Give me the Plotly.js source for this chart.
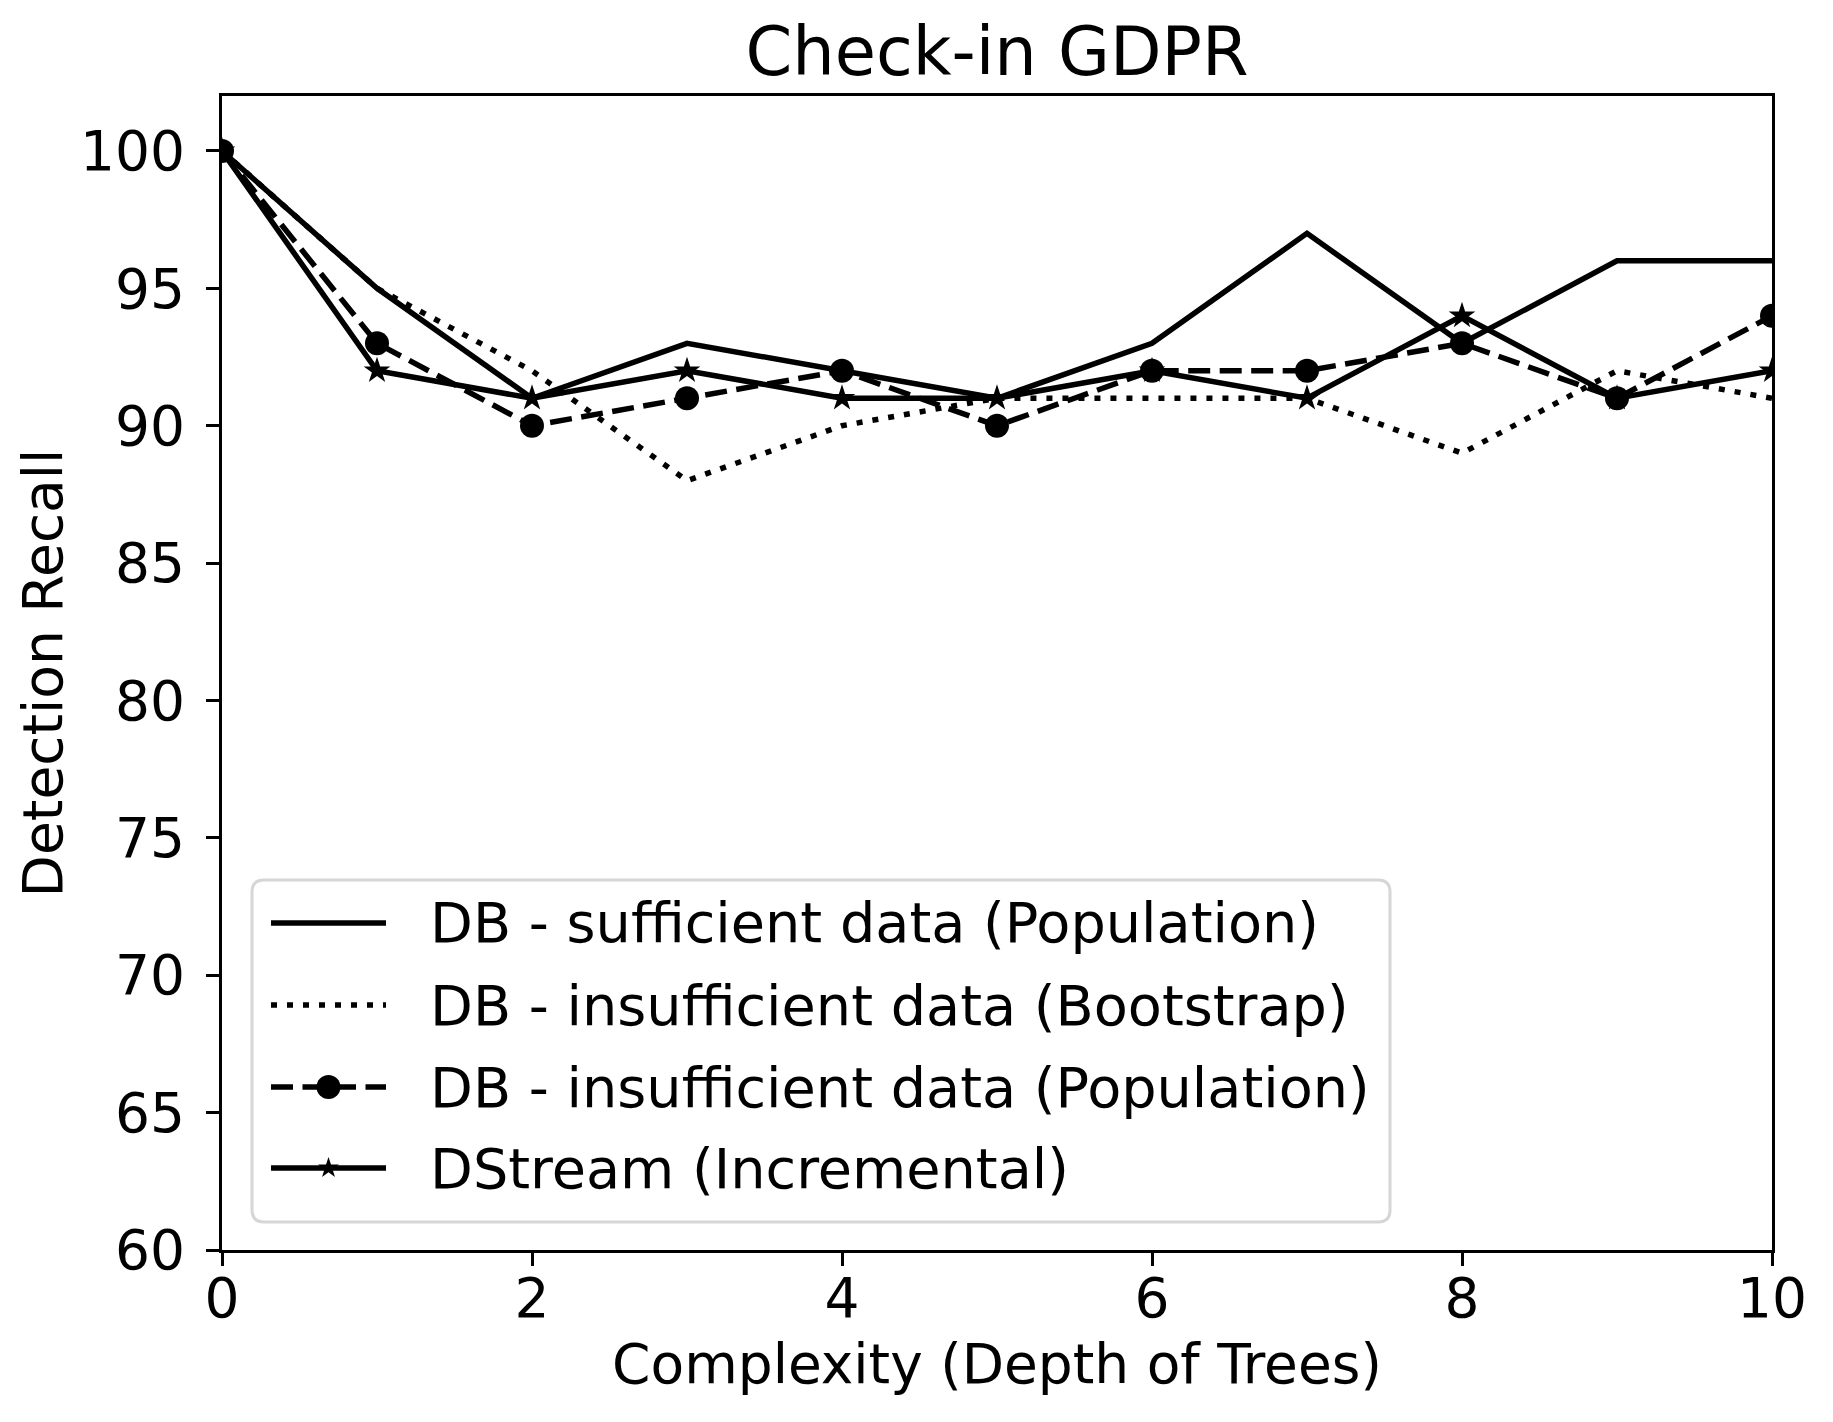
<!DOCTYPE html>
<html>
<head>
<meta charset="utf-8">
<script src="https://cdn.plot.ly/plotly-3.0.1.min.js"></script>
<style>
  html, body { margin: 0; padding: 0; background: #ffffff; }
  #chart { width: 1833px; height: 1422px; }
</style>
</head>
<body>
<div id="chart"></div>
<script>
// Tree depth (x axis)
const depth = [0, 1, 2, 3, 4, 5, 6, 7, 8, 9, 10];

// Detection recall per method
const sufficientPopulation   = [100, 95, 91, 93, 92, 91, 93, 97, 93, 96, 96];
const insufficientBootstrap  = [100, 95, 92, 88, 90, 91, 91, 91, 89, 92, 91];
const insufficientPopulation = [100, 93, 90, 91, 92, 90, 92, 92, 93, 91, 94];
const dstreamIncremental     = [100, 92, 91, 92, 91, 91, 92, 91, 94, 91, 92];

const seriesNames = [
  'DB - sufficient data (Population)',
  'DB - insufficient data (Bootstrap)',
  'DB - insufficient data (Population)',
  'DStream (Incremental)'
];

const xTicks = [0, 2, 4, 6, 8, 10];
const yTicks = [60, 65, 70, 75, 80, 85, 90, 95, 100];

const FONT = 'DejaVu Sans, Liberation Sans, sans-serif';
const LW = 5.5;
const DASHED = '22px,9.5px';
const DOTTED = '6px,10px';

// page geometry (pixels)
const W = 1833, H = 1422;
const M = { l: 222, r: 61, t: 96, b: 172 };
const PW = W - M.l - M.r, PH = H - M.t - M.b;
const px = v => (v - M.l) / PW;           // pixel x -> paper x
const py = v => (H - M.b - v) / PH;       // pixel y -> paper y

const traces = [
  { x: depth, y: sufficientPopulation, name: seriesNames[0], mode: 'lines',
    line: { color: '#000', width: LW } },
  { x: depth, y: insufficientBootstrap, name: seriesNames[1], mode: 'lines',
    line: { color: '#000', width: LW, dash: DOTTED } },
  { x: depth, y: insufficientPopulation, name: seriesNames[2], mode: 'lines+markers',
    line: { color: '#000', width: LW, dash: DASHED },
    marker: { symbol: 'circle', size: 24, color: '#000' } },
  { x: depth, y: dstreamIncremental, name: seriesNames[3], mode: 'lines+markers',
    line: { color: '#000', width: LW },
    marker: { symbol: 'star', size: 20, color: '#000' } }
].map(t => Object.assign(t, { type: 'scatter', showlegend: false, cliponaxis: true }));

// hand-built legend box (rounded corners) with long line samples
const box = { x0: 252, x1: 1390, y0: 880, y1: 1222, r: 12 };
function roundedRect(b) {
  const X = px, Y = py, r = b.r;
  return 'M' + X(b.x0 + r) + ',' + Y(b.y0) +
    ' L' + X(b.x1 - r) + ',' + Y(b.y0) +
    ' Q' + X(b.x1) + ',' + Y(b.y0) + ' ' + X(b.x1) + ',' + Y(b.y0 + r) +
    ' L' + X(b.x1) + ',' + Y(b.y1 - r) +
    ' Q' + X(b.x1) + ',' + Y(b.y1) + ' ' + X(b.x1 - r) + ',' + Y(b.y1) +
    ' L' + X(b.x0 + r) + ',' + Y(b.y1) +
    ' Q' + X(b.x0) + ',' + Y(b.y1) + ' ' + X(b.x0) + ',' + Y(b.y1 - r) +
    ' L' + X(b.x0) + ',' + Y(b.y0 + r) +
    ' Q' + X(b.x0) + ',' + Y(b.y0) + ' ' + X(b.x0 + r) + ',' + Y(b.y0) + ' Z';
}
function starPath(cx, cy, R) {
  const r = R * 0.382;
  let d = '';
  for (let i = 0; i < 10; i++) {
    const a = -Math.PI / 2 + i * Math.PI / 5;
    const rr = i % 2 === 0 ? R : r;
    d += (i === 0 ? 'M' : ' L') + px(cx + rr * Math.cos(a)) + ',' + py(cy + rr * Math.sin(a));
  }
  return d + ' Z';
}

const rowY = [923, 1005, 1087, 1168];
const sampleX0 = 271, sampleX1 = 386, sampleMid = 328.5, textX = 428;
const sampleDash = ['solid', DOTTED, DASHED, 'solid'];

const shapes = [{
  type: 'path', xref: 'paper', yref: 'paper', layer: 'above',
  path: roundedRect(box),
  fillcolor: 'rgba(255,255,255,0.8)',
  line: { color: '#d6d6d6', width: 3 }
}];
const annotations = [];
seriesNames.forEach((name, i) => {
  shapes.push({
    type: 'line', xref: 'paper', yref: 'paper', layer: 'above',
    x0: px(sampleX0), x1: px(sampleX1), y0: py(rowY[i]), y1: py(rowY[i]),
    line: { color: '#000', width: LW, dash: sampleDash[i] }
  });
  annotations.push({
    xref: 'paper', yref: 'paper', x: px(textX), y: py(rowY[i]),
    xanchor: 'left', yanchor: 'middle', showarrow: false,
    text: name, font: { family: FONT, size: 55.7, color: '#000' }
  });
});
// circle marker for the dashed series
shapes.push({
  type: 'circle', xref: 'paper', yref: 'paper', layer: 'above',
  x0: px(sampleMid - 12), x1: px(sampleMid + 12),
  y0: py(rowY[2] + 12), y1: py(rowY[2] - 12),
  fillcolor: '#000', line: { color: '#000', width: 0 }
});
// star marker for the DStream series
shapes.push({
  type: 'path', xref: 'paper', yref: 'paper', layer: 'above',
  path: starPath(sampleMid, rowY[3], 11),
  fillcolor: '#000', line: { color: '#000', width: 0 }
});

const axisCommon = {
  showgrid: false, zeroline: false,
  showline: true, mirror: true, linecolor: '#000', linewidth: 3,
  ticks: 'outside', ticklen: 13, tickwidth: 3, tickcolor: '#000',
  tickfont: { family: FONT, size: 55, color: '#000' }
};

const layout = {
  width: W, height: H,
  margin: M,
  paper_bgcolor: '#fff', plot_bgcolor: '#fff',
  font: { family: FONT, color: '#000' },
  title: {
    text: 'Check-in GDPR',
    font: { family: FONT, size: 67, color: '#000' },
    x: 0.5 * (M.l + W - M.r) / W, xanchor: 'center',
    yref: 'container', y: 1 - 52 / H, yanchor: 'middle'
  },
  xaxis: Object.assign({}, axisCommon, {
    range: [0, 10], tickvals: xTicks, ticktext: xTicks.map(String),
    ticklabelstandoff: -15,
    title: { text: 'Complexity (Depth of Trees)', font: { family: FONT, size: 55, color: '#000' }, standoff: 16 }
  }),
  yaxis: Object.assign({}, axisCommon, {
    range: [60, 102], tickvals: yTicks, ticktext: yTicks.map(String),
    ticklabelstandoff: 10,
    title: { text: 'Detection Recall', font: { family: FONT, size: 55, color: '#000' }, standoff: 0 }
  }),
  shapes: shapes,
  annotations: annotations,
  showlegend: false
};

Plotly.newPlot('chart', traces, layout, { displayModeBar: false, staticPlot: true });
</script>
</body>
</html>
